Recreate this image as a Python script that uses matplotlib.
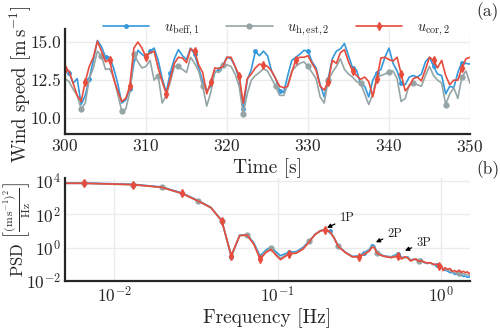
import matplotlib
matplotlib.use("Agg")
import matplotlib.pyplot as plt
import numpy as np
import seaborn as sns

# colours (flat ui)
c_blue = "#3498db"
c_gray = "#95a5a6"
c_red = "#e74c3c"

# ---- time series, 300..350 s every 0.5 s ----
t = np.arange(300.0, 350.01, 0.5)
u_beff1 = [13.4, 13.0, 12.3, 12.6, 10.9, 11.5, 12.6, 13.8, 15.1, 14.7,
           14.0, 14.0, 13.3, 12.3, 11.0, 11.2, 11.9, 13.6, 14.45, 14.2,
           14.0, 14.4, 14.6, 13.8, 12.6, 11.7, 13.0, 13.9, 14.5, 14.1,
           13.85, 14.6, 14.2, 13.3, 12.4, 11.8, 12.1, 13.0, 13.2, 13.5,
           14.0, 13.9, 13.4, 12.6, 10.6, 12.5, 13.2, 14.4, 14.1, 14.4,
           14.1, 13.1, 12.6, 11.8, 11.7, 12.8, 13.8, 14.0, 14.2, 14.45,
           14.4, 13.7, 13.3, 12.2, 11.4, 12.6, 13.9, 14.4, 14.55, 14.9,
           14.1, 13.3, 13.15, 12.2, 12.1, 11.4, 12.5, 13.0, 13.2, 14.0,
           14.6, 13.6, 13.1, 12.3, 12.2, 12.7, 12.8, 12.7, 12.9, 13.7,
           14.0, 13.4, 12.9, 12.8, 11.6, 12.1, 12.0, 13.0, 13.65, 13.6,
           13.55]
u_hest2 = [12.6, 12.4, 11.9, 11.5, 10.6, 11.0, 12.6, 13.3, 14.4, 14.1,
           13.2, 13.25, 12.7, 11.6, 10.5, 10.6, 11.7, 14.2, 13.7, 13.3,
           13.4, 13.8, 12.5, 12.8, 11.0, 11.5, 12.4, 13.4, 13.4, 13.2,
           13.0, 14.0, 13.6, 13.1, 12.1, 10.8, 11.7, 13.1, 13.0, 13.5,
           13.5, 13.4, 12.9, 12.1, 10.3, 11.6, 12.5, 12.8, 13.0, 13.25,
           13.1, 12.6, 12.1, 11.5, 11.5, 12.2, 13.1, 13.4, 13.6, 13.7,
           13.4, 13.0, 12.6, 11.4, 11.0, 12.5, 13.0, 13.4, 13.9, 13.2,
           12.9, 12.7, 12.4, 12.3, 11.6, 10.9, 11.6, 12.7, 12.8, 12.9,
           13.05, 13.1, 12.6, 11.1, 11.3, 12.2, 12.3, 12.2, 12.1, 12.8,
           13.4, 12.8, 12.5, 12.3, 10.9, 11.6, 12.0, 11.3, 12.7, 13.1,
           12.3]
u_cor2 = [13.25, 13.1, 12.3, 11.5, 11.1, 12.4, 13.4, 14.0, 15.05, 14.4,
          13.7, 13.85, 12.6, 11.8, 11.1, 11.3, 12.1, 14.6, 15.0, 14.6,
          14.0, 14.3, 14.4, 13.3, 12.4, 11.6, 12.6, 13.6, 14.0, 13.95,
          13.65, 14.55, 14.4, 13.5, 13.0, 11.6, 12.4, 13.3, 13.25, 13.4,
          14.0, 14.0, 13.4, 12.8, 11.0, 12.6, 12.9, 13.3, 13.55, 13.5,
          13.4, 13.1, 12.6, 12.1, 12.0, 12.1, 13.0, 13.85, 14.0, 14.0,
          14.1, 13.6, 13.15, 12.1, 11.85, 12.4, 13.8, 13.6, 14.3, 14.5,
          13.7, 13.1, 12.8, 12.55, 12.7, 12.4, 11.4, 12.6, 13.95, 14.0,
          13.85, 13.75, 14.0, 12.9, 11.8, 12.1, 12.6, 12.7, 12.45, 13.2,
          14.0, 13.8, 13.3, 13.8, 12.8, 12.2, 12.5, 12.5, 13.3, 13.9,
          14.0]

# ---- PSD (values read as decades, log10) ----
freq = [0.0, 0.0065, 0.013, 0.0195, 0.026, 0.0325, 0.039, 0.0455, 0.052, 0.0585,
        0.065, 0.0715, 0.078, 0.0845, 0.091, 0.0975, 0.104, 0.117, 0.13, 0.143,
        0.156, 0.169, 0.182, 0.195, 0.208, 0.221, 0.234, 0.26, 0.286, 0.312,
        0.338, 0.364, 0.377, 0.39, 0.403, 0.416, 0.442, 0.468, 0.494, 0.52,
        0.546, 0.572, 0.598, 0.624, 0.65, 0.676, 0.702, 0.728, 0.754, 0.78,
        0.819, 0.858, 0.897, 0.936, 0.975, 1.001, 1.027, 1.053, 1.092, 1.131,
        1.17, 1.209, 1.248, 1.287, 1.326, 1.365, 1.404, 1.443, 1.482, 1.521]
psd_beff1_log10 = [3.9, 3.88, 3.8, 3.64, 3.28, 2.83, 2.42, 1.62, -0.55, 0.75,
                   0.78, 0.28, -0.5, -0.15, 0.05, -0.25, -0.48, -0.28, -0.24, 0.02,
                   0.4, 0.8, 1.02, 1.08, 0.98, 0.6, 0.1, -0.28, -0.52, -0.5,
                   -0.3, -0.1, 0.18, 0.12, -0.25, -0.35, -0.48, -0.52, -0.55, -0.45,
                   -0.36, -0.58, -0.6, -0.55, -0.75, -0.7, -0.72, -0.8, -0.68, -0.88,
                   -0.95, -0.92, -1.02, -1.05, -1.1, -1.15, -1.3, -1.35, -1.4, -1.5,
                   -1.48, -1.6, -1.58, -1.68, -1.65, -1.72, -1.7, -1.78, -1.75, -1.8]
psd_hest2_log10 = [3.86, 3.85, 3.77, 3.61, 3.24, 2.8, 2.4, 1.6, -0.45, 0.73,
                   0.76, 0.22, -0.6, -0.22, -0.05, -0.38, -0.65, -0.33, -0.3, -0.05,
                   0.37, 0.78, 1.0, 1.06, 0.96, 0.58, 0.07, -0.3, -0.55, -0.53,
                   -0.35, -0.15, 0.08, 0.05, -0.3, -0.42, -0.52, -0.55, -0.58, -0.5,
                   -0.45, -0.62, -0.58, -0.58, -0.78, -0.7, -0.7, -0.8, -0.72, -0.86,
                   -0.93, -0.92, -1.0, -1.02, -1.08, -1.1, -1.3, -1.28, -1.35, -1.38,
                   -1.45, -1.5, -1.52, -1.52, -1.56, -1.58, -1.6, -1.62, -1.65, -1.65]
psd_cor2_log10 = [3.87, 3.86, 3.78, 3.62, 3.25, 2.8, 2.4, 1.6, -0.5, 0.72,
                  0.75, 0.2, -0.69, -0.3, -0.1, -0.45, -0.72, -0.38, -0.33, -0.08,
                  0.35, 0.78, 1.0, 1.07, 0.97, 0.6, 0.08, -0.3, -0.55, -0.55,
                  -0.4, -0.2, 0.02, 0.0, -0.3, -0.4, -0.5, -0.56, -0.6, -0.55,
                  -0.52, -0.68, -0.55, -0.62, -0.8, -0.72, -0.68, -0.82, -0.78, -0.85,
                  -0.92, -0.9, -1.0, -1.0, -1.08, -1.05, -1.38, -1.2, -1.3, -1.25,
                  -1.42, -1.38, -1.45, -1.35, -1.48, -1.42, -1.5, -1.45, -1.55, -1.5]

# harmonics annotations: label, arrow head (f, psd), text centre (f, psd)
harm_labels = ["1P", "2P", "3P"]
harm_head = [(0.2, 15.5), (0.398, 2.1), (0.60, 0.66)]
harm_text = [(0.265, 57.0), (0.52, 7.1), (0.78, 2.0)]

sns.set_style("whitegrid")
plt.rcParams["font.family"] = ["cmr10", "DejaVu Serif"]
plt.rcParams["mathtext.fontset"] = "cm"
plt.rcParams["axes.formatter.use_mathtext"] = True
plt.rcParams["axes.unicode_minus"] = False

fig = plt.figure(figsize=(5.0, 3.28), dpi=100)
ax1 = fig.add_axes([0.13, 0.5915, 0.81, 0.32])
ax2 = fig.add_axes([0.13, 0.1433, 0.81, 0.314])

fs_tick = 12.5
fs_lab = 14
lw = 1.2

ax1.plot(t, u_beff1, color=c_blue, lw=lw, marker=".", ms=5, markevery=(0.03, 0.15),
         label=r"$u_{\mathrm{beff},1}$")
ax1.plot(t, u_hest2, color=c_gray, lw=lw, marker="o", ms=3.5, markevery=(0.09, 0.15),
         label=r"$u_{\mathrm{h,est},2}$")
ax1.plot(t, u_cor2, color=c_red, lw=lw, marker="d", ms=4, markevery=(0.0, 0.15),
         label=r"$u_{\mathrm{cor},2}$")
ax1.set_xlim(300, 350)
ax1.set_ylim(8.97, 15.85)
ax1.set_xticks([300, 310, 320, 330, 340, 350])
ax1.set_yticks([10.0, 12.5, 15.0])
ax1.set_yticklabels(["10.0", "12.5", "15.0"])
ax1.set_xlabel("Time [s]", fontsize=fs_lab, labelpad=2)
ax1.set_ylabel(r"Wind speed $[\mathrm{m\,s^{-1}}]$", fontsize=13.5)
ax1.yaxis.set_label_coords(-0.08, 0.47)
leg = fig.legend(handles=ax1.get_lines(), loc="center", bbox_to_anchor=(0.553, 0.912),
                 bbox_transform=fig.transFigure, ncol=3, frameon=False,
                 fontsize=10.5, handlelength=3.2, handletextpad=1.0, columnspacing=1.8,
                 borderaxespad=0)

ax2.plot(freq, 10.0 ** np.array(psd_beff1_log10), color=c_blue, lw=lw, marker=".", ms=5,
         markevery=(0.12, 0.11))
ax2.plot(freq, 10.0 ** np.array(psd_hest2_log10), color=c_gray, lw=lw, marker="o", ms=3.5,
         markevery=(0.06, 0.11))
ax2.plot(freq, 10.0 ** np.array(psd_cor2_log10), color=c_red, lw=lw, marker="d", ms=4,
         markevery=(0.01, 0.11))
ax2.set_xscale("log")
ax2.set_yscale("log")
ax2.set_xlim(0.005, 1.5)
ax2.set_ylim(1e-2, 1.5e4)
ax2.set_yticks([1e-2, 1e0, 1e2, 1e4])
ax2.minorticks_off()
ax2.set_xlabel("Frequency [Hz]", fontsize=fs_lab, labelpad=2)
ax2.set_ylabel(r"PSD $\left[\frac{(\mathrm{m\,s^{-1}})^2}{\mathrm{Hz}}\right]$", fontsize=12)
ax2.yaxis.set_label_coords(-0.078, 0.5)

for lab, head, txt in zip(harm_labels, harm_head, harm_text):
    ax2.annotate(lab, xy=head, xytext=txt, fontsize=9, ha="center", va="center",
                 arrowprops=dict(arrowstyle="-|>", color="k", lw=0.9,
                                 shrinkA=1, shrinkB=0, mutation_scale=6))

for ax in (ax1, ax2):
    ax.tick_params(labelsize=fs_tick, length=0, pad=3)
    for s in ("top", "right"):
        ax.spines[s].set_visible(False)
    for s in ("left", "bottom"):
        ax.spines[s].set_color("0.15")
        ax.spines[s].set_linewidth(1.6)
    ax.grid(True, color="#ebebeb", lw=1.0)

fig.text(0.976, 0.963, "(a)", fontsize=fs_tick, ha="center", va="center")
fig.text(0.976, 0.482, "(b)", fontsize=fs_tick, ha="center", va="center")

fig.savefig("out.png", dpi=100)
